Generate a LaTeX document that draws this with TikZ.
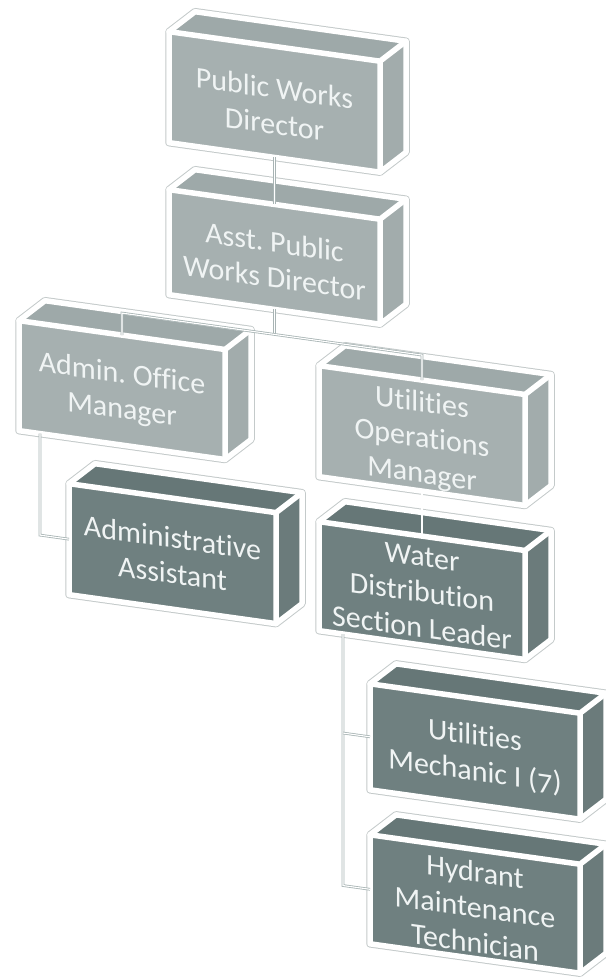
\documentclass[tikz,border=0pt]{standalone}
\usepackage{fontspec}
\setmainfont{Carlito}[Numbers=OldStyle,Ligatures=NoCommon]
\frenchspacing
\definecolor{ltfront}{RGB}{166,176,176}
\definecolor{lttop}{RGB}{158,169,169}
\definecolor{ltside}{RGB}{162,172,172}
\definecolor{dkfront}{RGB}{111,128,128}
\definecolor{dktop}{RGB}{102,119,119}
\definecolor{dkside}{RGB}{107,123,123}
\definecolor{edgeline}{RGB}{196,202,202}
\definecolor{connline}{RGB}{168,180,180}
\definecolor{txtcol}{RGB}{240,244,244}
\tikzset{
  outline/.style={draw=edgeline, line width=7.5pt, line join=round},
  edge/.style={draw=white, line width=5.5pt, line join=round, line cap=round},
  boxtext/.style={transform shape, align=center, text=txtcol, inner sep=0pt,
    font=\frenchspacing\fontsize{30}{35.5}\selectfont},
  conn/.style={draw=connline, line width=0.8pt, double=white, double distance=1.1pt},
}
\newcommand\orgbox[8]{%
  \coordinate (#1-bl) at (#2,#5);
  \coordinate (#1-tl) at (#2,#4);
  \coordinate (#1-tr) at (#3,#4);
  \coordinate (#1-br) at (#3,#5);
  \coordinate (#1-btl) at (#2+26,#4-23.6);
  \coordinate (#1-btr) at (#3+26,#4-23.6);
  \coordinate (#1-bbr) at (#3+26,#5-23.6);
  \coordinate (#1-top) at ({(#2+#3)/2},#4);
  \coordinate (#1-bot) at ({(#2+#3)/2},#5);
  \coordinate (#1-left) at (#2,{(#4+#5)/2});
  \draw[outline] (#1-bl) -- (#1-tl) -- (#1-btl) -- (#1-btr) -- (#1-bbr) -- (#1-br) -- cycle;
  \fill[#6top] (#1-tl) -- (#1-btl) -- (#1-btr) -- (#1-tr) -- cycle;
  \fill[#6side] (#1-tr) -- (#1-btr) -- (#1-bbr) -- (#1-br) -- cycle;
  \fill[#6front] (#1-tl) rectangle (#1-br);
  \draw[edge] (#1-bl) -- (#1-tl) -- (#1-btl) -- (#1-btr) -- (#1-bbr) -- (#1-br) -- cycle;
  \draw[edge] (#1-tl) -- (#1-tr) -- (#1-br) (#1-tr) -- (#1-btr);
  \node[boxtext] (#1) at ({(#2+#3)/2},{(#4+#5)/2+#8}) {#7};
}
\begin{document}
\begin{tikzpicture}[x=1pt,y=-1pt]
\useasboundingbox (0,0) rectangle (605,979);
\begin{scope}[yslant=-0.14]
\orgbox{b1}{169}{380}{8}{119}{lt}{Public Works\\Director}{4}
\orgbox{b2}{169}{380}{166}{271}{lt}{Asst. Public\\Works Director}{3}
\orgbox{b3}{19}{225}{318}{428}{lt}{Admin. Office\\Manager}{3}
\orgbox{b4}{319}{525}{321}{432}{lt}{Utilities\\Operations\\Manager}{4}
\orgbox{b5}{69}{276}{474}{585}{dk}{Administrative\\Assistant}{2}
\orgbox{b6}{319}{525}{477}{586}{dk}{Water\\Distribution\\Section Leader}{2}
\orgbox{b7}{370}{580}{632}{738}{dk}{Utilities\\Mechanic I (7)}{3}
\orgbox{b8}{370}{580}{783}{892}{dk}{Hydrant\\Maintenance\\Technician}{3}
\coordinate (j2) at (274.5,296);
\coordinate (j3) at (122,296);
\coordinate (j4) at (422,296);
\coordinate (k3t) at (40,428);
\coordinate (k3b) at (40,529.5);
\coordinate (k6t) at (343,586);
\coordinate (k7) at (343,685);
\coordinate (k8) at (343,837.5);
\draw[conn] (b1-bot) -- (b2-top);
\draw[conn] (b2-bot) -- (j2);
\draw[conn] (b3-top) -- (j3) -- (j4) -- (b4-top);
\draw[conn] (k3t) -- (k3b) -- (b5-left);
\draw[conn] (b4-bot) -- (b6-top);
\draw[conn] (k6t) -- (k8) -- (b8-left);
\draw[conn] (k7) -- (b7-left);
\end{scope}
\end{tikzpicture}
\end{document}
